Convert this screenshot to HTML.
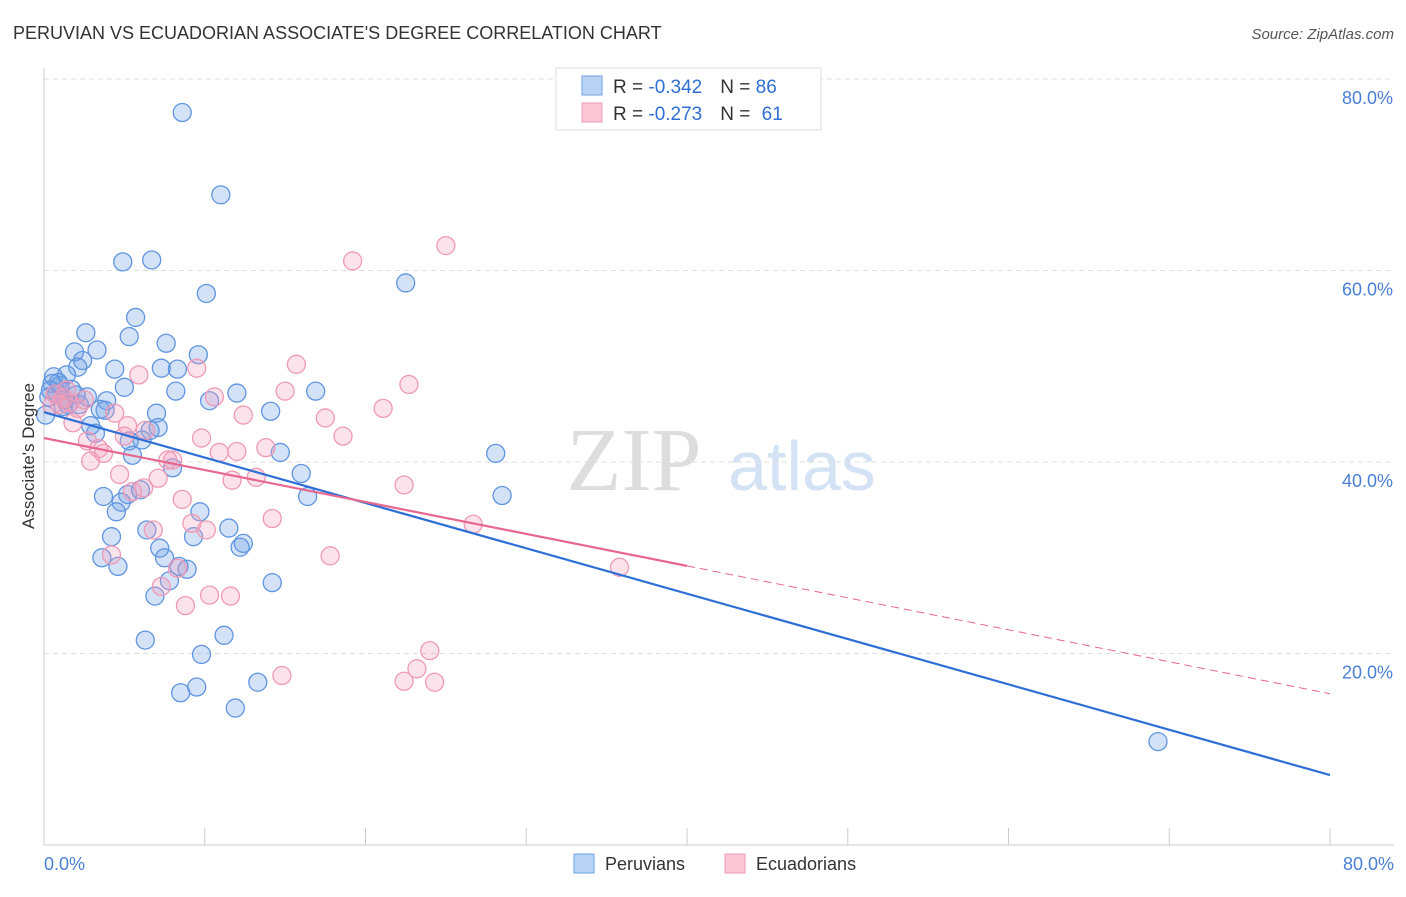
<!DOCTYPE html>
<html><head><meta charset="utf-8"><style>
body{margin:0;background:#fff;font-family:"Liberation Sans",sans-serif;}
</style></head><body>
<svg width="1406" height="892" xmlns="http://www.w3.org/2000/svg" font-family="Liberation Sans, sans-serif">
<text x="13" y="39" font-size="18" fill="#333">PERUVIAN VS ECUADORIAN ASSOCIATE'S DEGREE CORRELATION CHART</text>
<text x="1394" y="39" font-size="15" fill="#555" text-anchor="end" font-style="italic">Source: ZipAtlas.com</text>
<g>
<text x="634" y="490" font-size="90" fill="#ddd" text-anchor="middle" font-family="Liberation Serif, serif">ZIP</text>
<text x="802" y="490" font-size="70" fill="#d4e2f5" text-anchor="middle">atlas</text>
</g>
<g id="grid"></g>
<g id="axes"></g>
<g id="pts"></g>
<g id="trend"></g>
<text transform="translate(34,456) rotate(-90)" font-size="17" fill="#333" text-anchor="middle">Associate's Degree</text>
<text x="44" y="870" font-size="18" fill="#4a7fd6">0.0%</text>
<text x="1394" y="870" font-size="18" fill="#4a7fd6" text-anchor="end">80.0%</text>
<g>
<rect x="556" y="68" width="265" height="62" fill="#fff" stroke="#ddd"/>
<rect x="582" y="76" width="20" height="19" fill="#b9d3f5" stroke="#6fa0e3"/>
<rect x="582" y="103" width="20" height="19" fill="#fcc7d6" stroke="#ef9ab5"/>
<text x="613" y="93" font-size="19" fill="#333">R = <tspan fill="#2f6fd1">-0.342</tspan><tspan dx="18">N = </tspan><tspan fill="#2f6fd1">86</tspan></text>
<text x="613" y="120" font-size="19" fill="#333">R = <tspan fill="#2f6fd1">-0.273</tspan><tspan dx="18">N = </tspan><tspan fill="#2f6fd1" dx="6">61</tspan></text>
</g>
<g>
<rect x="574" y="854" width="20" height="19" fill="#b9d3f5" stroke="#6fa0e3"/>
<text x="605" y="870" font-size="18" fill="#333">Peruvians</text>
<rect x="725" y="854" width="20" height="19" fill="#fcc7d6" stroke="#ef9ab5"/>
<text x="756" y="870" font-size="18" fill="#333">Ecuadorians</text>
</g>
</svg>
<script>
const yTicks=[20,40,60,80];
const yTickLabels=["20.0%","40.0%","60.0%","80.0%"];
const xTicks=[0,10,20,30,40,50,60,70,80];
const blueX=[8.6,11.0,4.9,6.7,10.1,22.5,5.7,2.6,5.3,7.6,3.3,1.9,9.6,2.4,2.1,4.4,7.3,8.3,1.4,0.6,0.5,1.0,5.0,1.7,8.2,12.0,16.9,2.7,0.8,3.9,10.3,2.2,1.2,3.5,3.8,14.1,7.0,2.9,7.1,6.6,3.2,6.1,5.3,14.7,5.5,28.1,8.0,16.0,3.7,5.2,6.0,16.4,28.5,4.8,4.5,9.7,6.4,11.5,4.2,9.3,12.4,12.2,7.2,3.6,7.5,4.6,8.4,8.9,7.8,14.2,6.9,6.3,11.2,9.8,13.3,9.5,8.5,11.9,69.3,0.1,0.4,1.3,0.9,2.0,1.5,0.3];
const blueY=[76.5,67.9,60.9,61.1,57.6,58.7,55.1,53.5,53.1,52.4,51.7,51.5,51.2,50.6,49.9,49.7,49.8,49.7,49.1,48.9,48.2,48.0,47.8,47.6,47.4,47.2,47.4,46.8,47.2,46.4,46.4,46.0,45.8,45.5,45.4,45.3,45.1,43.8,43.6,43.3,43.0,42.3,42.2,41.0,40.7,40.9,39.4,38.8,36.4,36.6,37.1,36.4,36.5,35.8,34.8,34.8,32.9,33.1,32.2,32.2,31.5,31.1,31.0,30.0,30.0,29.1,29.1,28.8,27.6,27.4,26.0,21.4,21.9,19.9,17.0,16.5,15.9,14.3,10.8,44.9,47.5,46.5,48.3,47.0,46.0,46.8];
const pinkX=[25.0,19.2,15.7,9.5,5.9,22.7,15.0,10.6,21.1,0.7,1.2,1.6,2.1,4.4,12.4,17.5,1.8,5.2,6.3,18.6,9.8,5.0,2.7,13.8,12.0,10.9,3.4,3.7,7.7,8.0,2.9,4.7,11.7,7.1,13.2,22.4,6.2,5.5,8.6,14.2,26.7,9.2,10.1,6.8,4.2,17.8,35.8,8.3,7.3,10.3,11.6,8.8,24.0,14.8,23.2,22.4,24.3,1.0,1.4,2.5,0.5];
const pinkY=[62.6,61.0,50.2,49.8,49.1,48.1,47.4,46.8,45.6,47.1,46.7,46.2,45.6,45.1,44.9,44.6,44.1,43.8,43.3,42.7,42.5,42.7,42.2,41.5,41.1,41.0,41.4,40.9,40.2,40.2,40.1,38.7,38.1,38.3,38.4,37.6,37.3,36.9,36.1,34.1,33.5,33.6,32.9,32.9,30.3,30.2,29.0,28.9,27.0,26.1,26.0,25.0,20.3,17.7,18.4,17.1,17.0,46.0,47.5,46.5,45.9];
const blueTrend=[45.2,7.3];   // at x=0 and x=80
const pinkTrend=[42.5,15.8];  // at x=0 and x=80; solid to 40
const pinkSolidEnd=40;
const NS="http://www.w3.org/2000/svg";
const X=v=>44+v/80*1286, Y=v=>845-v/20*191.5;
function mk(tag,attrs,parent){const e=document.createElementNS(NS,tag);for(const k in attrs)e.setAttribute(k,attrs[k]);document.getElementById(parent).appendChild(e);return e;}
yTicks.forEach((t,i)=>{
 const g=mk('line',{x1:44,x2:1394,y1:Y(t),y2:Y(t),stroke:'#ddd','stroke-dasharray':'5,4'},'grid');
 
 
 const l=mk('text',{x:1393,y:Y(t)+25,'font-size':18,fill:'#4a7fd6','text-anchor':'end'},'grid');
 l.textContent=yTickLabels[i];
 
 
});
let a=mk('line',{x1:44,x2:44,y1:68,y2:845,stroke:'#ccc'},'axes');


a=mk('line',{x1:44,x2:1394,y1:845,y2:845,stroke:'#ccc'},'axes');


xTicks.forEach(t=>{
 const e=mk('line',{x1:X(t),x2:X(t),y1:828,y2:845,stroke:'#ccc'},'axes');
 
 
});
blueX.forEach((v,i)=>{
 const c=mk('circle',{cx:X(v),cy:Y(blueY[i]),r:9,fill:'rgba(110,160,230,0.3)',stroke:'#5f95e0','stroke-width':1.3},'pts');
 
 
});
pinkX.forEach((v,i)=>{
 const c=mk('circle',{cx:X(v),cy:Y(pinkY[i]),r:9,fill:'rgba(245,160,190,0.3)',stroke:'#ef9ab5','stroke-width':1.3},'pts');
 
 
});
let t=mk('line',{x1:X(0),y1:Y(blueTrend[0]),x2:X(80),y2:Y(blueTrend[1]),stroke:'#2d6fd6','stroke-width':2.2},'trend');


const pAt=x=>pinkTrend[0]+(pinkTrend[1]-pinkTrend[0])*x/80;
t=mk('line',{x1:X(0),y1:Y(pAt(0)),x2:X(pinkSolidEnd),y2:Y(pAt(pinkSolidEnd)),stroke:'#e8678f','stroke-width':2.2},'trend');


t=mk('line',{x1:X(pinkSolidEnd),y1:Y(pAt(pinkSolidEnd)),x2:X(80),y2:Y(pAt(80)),stroke:'#e8678f','stroke-width':1,'stroke-dasharray':'8,5'},'trend');


</script>
</body></html>
